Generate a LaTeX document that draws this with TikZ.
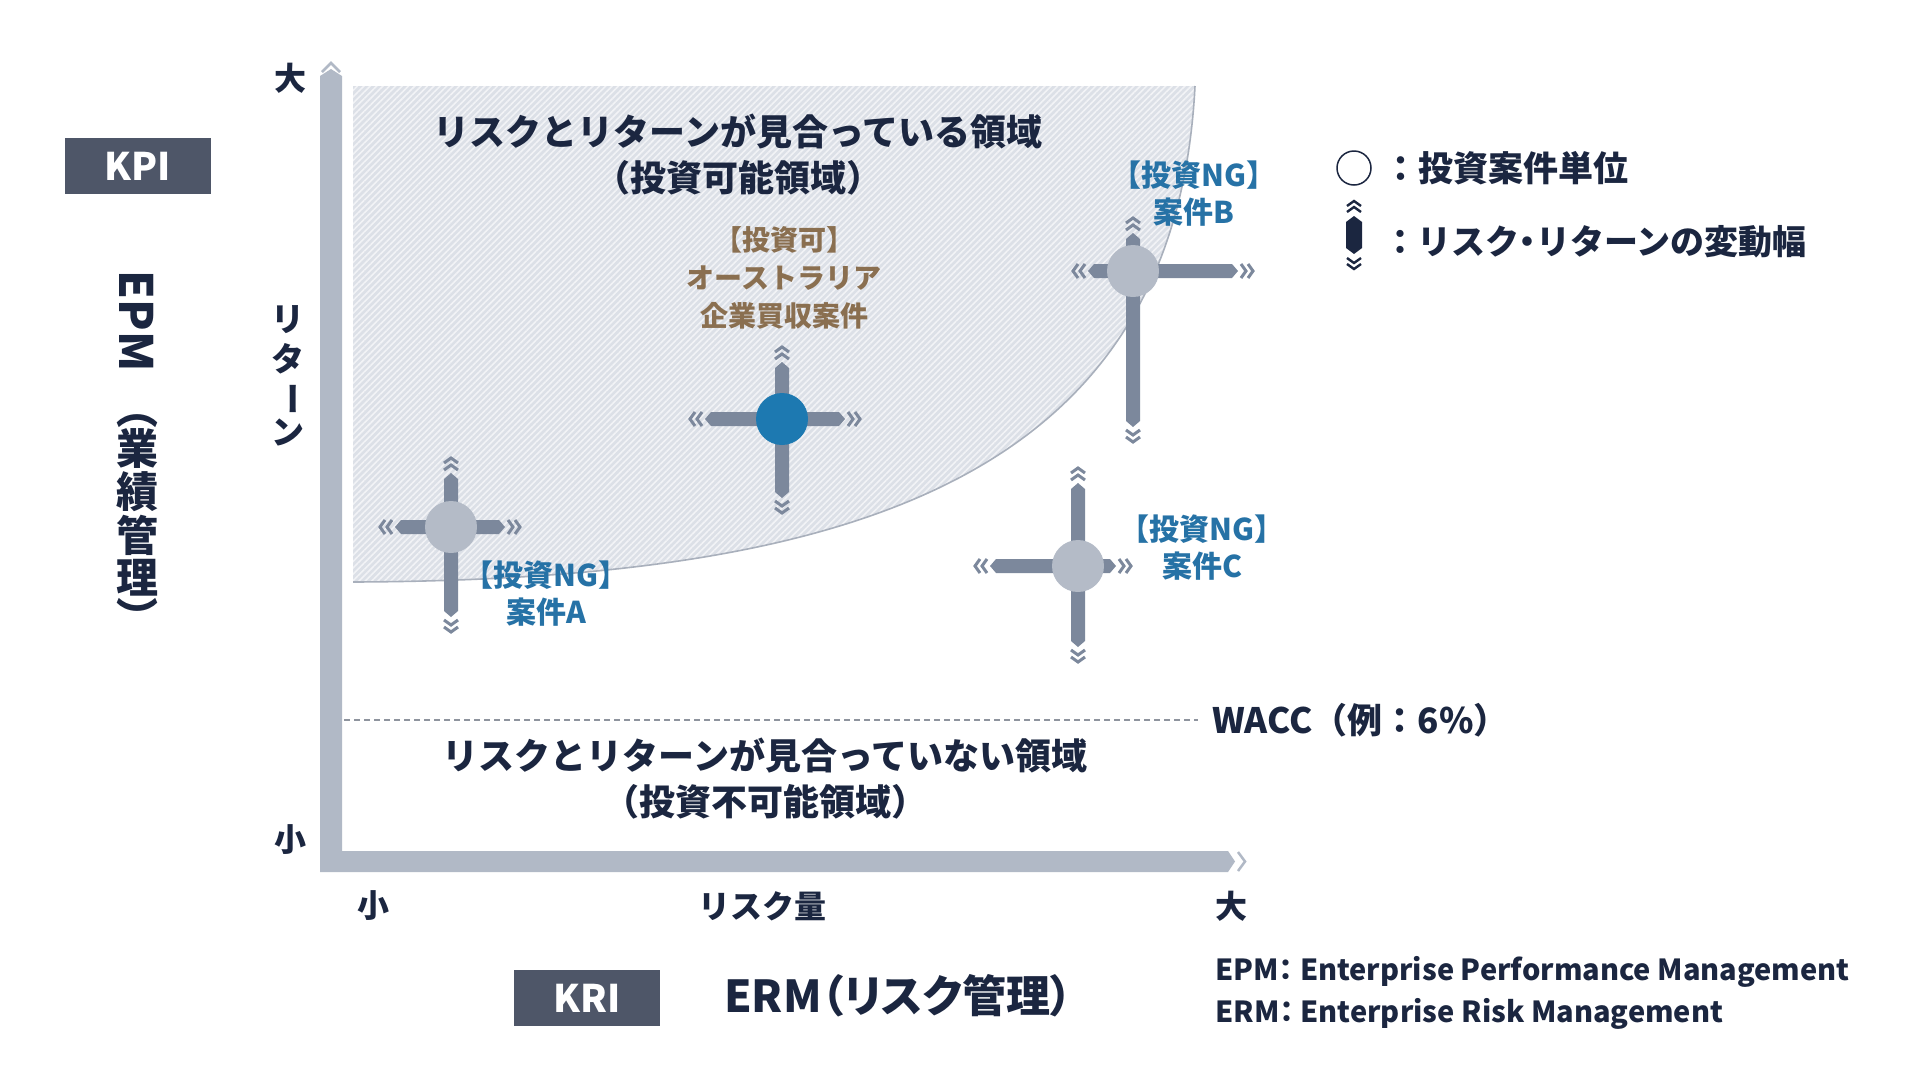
\documentclass[tikz,border=0pt]{standalone}
\usepackage{fontspec}
\setmainfont{Noto Sans CJK JP}
\usetikzlibrary{patterns.meta}
\definecolor{navy}{HTML}{1B2640}
\definecolor{axisc}{HTML}{B1B9C6}
\definecolor{boxc}{HTML}{4E5668}
\definecolor{armc}{HTML}{7C889C}
\definecolor{dotc}{HTML}{B4BBC7}
\definecolor{bluedot}{HTML}{1D79B1}
\definecolor{bluetxt}{HTML}{2672A6}
\definecolor{browntxt}{HTML}{8A6F50}
\definecolor{hatchbg}{HTML}{DCE0E7}
\definecolor{hatchln}{HTML}{F2F3F6}
\definecolor{curvec}{HTML}{A9B0BC}
\definecolor{dashc}{HTML}{8E949E}
\newcommand{\fsz}[2]{\fontsize{#1}{#2}\selectfont}
\tikzset{
  navytxt/.style={text=navy, inner sep=0pt, font=\bfseries\fsz{#1}{#1}},
  ttl/.style={text=navy, inner sep=0pt, align=center, font=\bfseries\fsz{36}{46}},
  bluelbl/.style={text=bluetxt, inner sep=0pt, align=center, font=\bfseries\fsz{30}{37}},
  brownlbl/.style={text=browntxt, inner sep=0pt, align=center, font=\bfseries\fsz{28}{38}},
  labbox/.style={fill=boxc, text=white, inner sep=0pt, minimum width=146, minimum height=56, font=\bfseries\fsz{38}{38}},
  chev/.style={draw=armc, line width=3, line cap=butt, line join=miter},
  dot/.style={circle, fill=#1, minimum size=52, inner sep=0pt},
}
\newcommand{\varcross}[8]{%
  \fill[armc] (#1-7,#3+6) -- (#1,#3) -- (#1+7,#3+6) -- (#1+7,#4-6) -- (#1,#4) -- (#1-7,#4-6) -- cycle;
  \fill[armc] (#5+6,#2-7) -- (#5,#2) -- (#5+6,#2+7) -- (#6-6,#2+7) -- (#6,#2) -- (#6-6,#2-7) -- cycle;
  \draw[chev] (#1-7,#3-3) -- (#1,#3-8) -- (#1+7,#3-3);
  \draw[chev] (#1-7,#3-10) -- (#1,#3-15) -- (#1+7,#3-10);
  \draw[chev] (#1-7,#4+3) -- (#1,#4+8) -- (#1+7,#4+3);
  \draw[chev] (#1-7,#4+10) -- (#1,#4+15) -- (#1+7,#4+10);
  \draw[chev] (#5-3,#2-7) -- (#5-8,#2) -- (#5-3,#2+7);
  \draw[chev] (#5-10,#2-7) -- (#5-15,#2) -- (#5-10,#2+7);
  \draw[chev] (#6+3,#2-7) -- (#6+8,#2) -- (#6+3,#2+7);
  \draw[chev] (#6+10,#2-7) -- (#6+15,#2) -- (#6+10,#2+7);
  \node[dot=#7] (#8) at (#1,#2) {};
}
\begin{document}
\begin{tikzpicture}[x=1pt,y=-1pt]
\useasboundingbox[fill=white] (0,0) rectangle (1920,1080);

% investable region (hatched)
\fill[hatchbg] (353,86) -- (1195,86) .. controls (1175,480) and (850,580) .. (353,582) -- cycle;
\fill[pattern={Lines[angle=45,distance=4.5pt,line width=1.6pt]}, pattern color=hatchln]
  (353,86) -- (1195,86) .. controls (1175,480) and (850,580) .. (353,582) -- cycle;
\draw[curvec, line width=1.6] (353,582) .. controls (850,580) and (1175,480) .. (1195,86);

% WACC line
\coordinate (waccL) at (344,720);
\coordinate (waccR) at (1198,720);
\draw[dashc, line width=1.5, dash pattern=on 6pt off 4pt] (waccL) -- (waccR);
\node[navytxt=35, anchor=west] (wacc) at (1212,720) {WACC（例：6\%）};

% axes
\fill[axisc] (320,872) -- (320,76) -- (331,69) -- (342,76) -- (342,851) -- (1228,851) -- (1235,861.5) -- (1228,872) -- cycle;
\draw[axisc, line width=2.5, line join=miter] (322,72) -- (331,63) -- (340,72);
\draw[axisc, line width=2.5, line join=miter] (1238,852) -- (1245,861.5) -- (1238,871);

% axis labels
\node[navytxt=32] (ymax) at (290,78) {大};
\node[navytxt=32] (ymin) at (290,840) {小};
\node[navytxt=32] (xmin) at (373,906) {小};
\node[navytxt=32] (xlbl) at (762,906) {リスク量};
\node[navytxt=32] (xmax) at (1231,906) {大};
\node[navytxt=33] (r1) at (288,320) {リ};
\node[navytxt=33] (r2) at (288,359) {タ};
\node[navytxt=33, rotate=-90] (r3) at (288,399) {ー};
\node[navytxt=33] (r4) at (288,432) {ン};

% KPI / EPM
\node[labbox] (kpi) at (138,166) {KPI};
\node[navytxt=46, rotate=-90] (epm) at (137,321) {EPM};
\node[navytxt=42, rotate=-90] (p1) at (137,408) {（};
\node[navytxt=42] (k1) at (137,449) {業};
\node[navytxt=42] (k2) at (137,492) {績};
\node[navytxt=42] (k3) at (137,535) {管};
\node[navytxt=42] (k4) at (137,578) {理};
\node[navytxt=42, rotate=-90] (p2) at (137,617) {）};

% KRI / ERM
\node[labbox] (kri) at (587,998) {KRI};
\node[navytxt=44, anchor=west] (erm) at (724,996) {\addfontfeatures{RawFeature=+palt}ERM（リスク管理）};
\node[navytxt=29, anchor=west] (epmdef) at (1215,972) {\addfontfeatures{RawFeature=+palt}EPM： Enterprise Performance Management};
\node[navytxt=29, anchor=west] (ermdef) at (1215,1014) {\addfontfeatures{RawFeature=+palt}ERM： Enterprise Risk Management};

% region titles
\node[ttl] (okttl) at (738,155) {リスクとリターンが見合っている領域\\（投資可能領域）};
\node[ttl] (ngttl) at (765,779) {リスクとリターンが見合っていない領域\\（投資不可能領域）};

% crosses
\varcross{451}{527}{473}{617}{395}{505}{dotc}{caseA}
\varcross{782}{419}{362}{498}{705}{845}{bluedot}{caseAU}
\varcross{1133}{271}{233}{427}{1088}{1238}{dotc}{caseB}
\varcross{1078}{566}{483}{647}{990}{1116}{dotc}{caseC}

% case labels
\node[brownlbl] (lblAU) at (784,278) {【投資可】\\オーストラリア\\企業買収案件};
\node[bluelbl] (lblA) at (546,594) {【投資NG】\\案件A};
\node[bluelbl] (lblB) at (1194,194) {【投資NG】\\案件B};
\node[bluelbl] (lblC) at (1202,548) {【投資NG】\\案件C};

% legend
\node[circle, draw=navy, line width=1.5, minimum size=34, inner sep=0pt] (legdot) at (1354,168) {};
\node[navytxt=35, anchor=west] (legdottxt) at (1383,168) {：投資案件単位};
\fill[navy] (1354,216) -- (1362,222) -- (1362,248) -- (1354,254) -- (1346,248) -- (1346,222) -- cycle;
\draw[navy, line width=2.4, line join=miter] (1347,212) -- (1354,207) -- (1361,212);
\draw[navy, line width=2.4, line join=miter] (1347,206) -- (1354,201) -- (1361,206);
\draw[navy, line width=2.4, line join=miter] (1347,258) -- (1354,263) -- (1361,258);
\draw[navy, line width=2.4, line join=miter] (1347,264) -- (1354,269) -- (1361,264);
\node[navytxt=34, anchor=west] (legvartxt) at (1383,242) {：リスク{\addfontfeatures{RawFeature=+palt}・}リターンの変動幅};
\end{tikzpicture}
\end{document}
